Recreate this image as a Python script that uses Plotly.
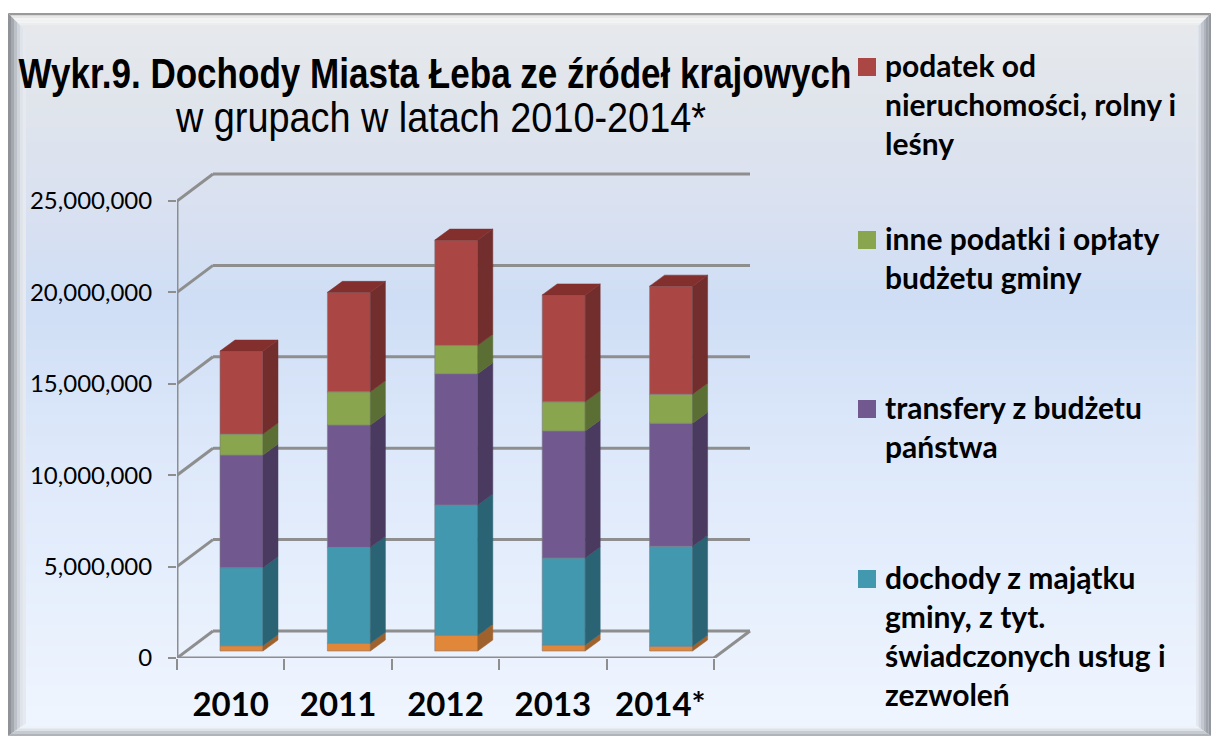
import plotly.graph_objects as go

years = ["2010", "2011", "2012", "2013", "2014*"]
series_names = [
    "świadczenia (bez opisu)",
    "dochody z majątku gminy, z tyt. świadczonych usług i zezwoleń",
    "transfery z budżetu państwa",
    "inne podatki i opłaty budżetu gminy",
    "podatek od nieruchomości, rolny i leśny",
]
v_orange = [290000, 420000, 860000, 330000, 260000]
v_teal = [4270000, 5250000, 7130000, 4760000, 5470000]
v_purple = [6160000, 6690000, 7180000, 6950000, 6730000]
v_green = [1150000, 1820000, 1550000, 1590000, 1590000]
v_red = [4540000, 5440000, 5760000, 5850000, 5910000]
y_ticks = [0, 5000000, 10000000, 15000000, 20000000, 25000000]

values = [v_orange, v_teal, v_purple, v_green, v_red]
front = ["#E0873A", "#4198AF", "#71588F", "#89A54E", "#AA4643"]
side = ["#A0622C", "#2A6474", "#4B3A60", "#5B6E34", "#722E2D"]
top_face = "#832F2D"
grid_c = "#8E8E8E"

W, H = 1211, 743
L, R, T, B = 177, 753, 172, 658
def px(x): return (x - L) / (R - L)
def py(y): return (B - y) / (B - T)
UX = 107.4                # pixels per category
UY = 457 / 25000000       # pixels per value unit
wall_dx, wall_dy = 36 / UX, 27 / UY
bar_off_x, bar_base = 10.8 / UX, 7 / UY
bar_w = 43 / UX
depth_x, depth_y = 15 / UX, 11 / UY

shapes = []
# background gradient bands
stops = [(14, (231, 233, 236)), (100, (224, 229, 236)), (200, (218, 225, 240)),
         (300, (207, 222, 245)), (450, (221, 232, 250)), (736, (240, 246, 255))]
def col(y):
    for (a, ca), (b, cb) in zip(stops, stops[1:]):
        if a <= y <= b:
            t = (y - a) / (b - a)
            return "rgb(%d,%d,%d)" % tuple(round(p + (q - p) * t) for p, q in zip(ca, cb))
    return "rgb(240,246,255)"
fx0, fx1, fy0, fy1 = 8, 1211, 13, 736
for y in range(fy0, fy1, 3):
    shapes.append(dict(type="rect", xref="paper", yref="paper", layer="below",
                       x0=px(fx0), x1=px(fx1), y0=py(y), y1=py(min(y + 3, fy1)),
                       fillcolor=col(y), line_width=0))
# bevel strips (graded steps, mitred)
def poly(pts, c):
    d = "M" + " L".join(f"{px(a):.5f},{py(b):.5f}" for a, b in pts) + " Z"
    shapes.append(dict(type="path", xref="paper", yref="paper", layer="below",
                       path=d, fillcolor=c, line_width=0))
left_cols = ["#8f9297", "#a5a8ae", "#bcc0c7", "#d0d4dc", "#dfe3ea", "#e6e9f0"]
right_cols = ["#e4e8f0", "#d5d9e2", "#c3c7d0", "#b0b4bd", "#9ea2aa", "#93979e"]
top_cols = ["#9a9a9a", "#e8e8e8", "#f4f4f4", "#f2f3f4", "#ecedef", "#e6e8ea"]
bot_cols = ["#eef3fb", "#dde1e8", "#c6cad1", "#b0b3b9"]
bw, n = 18, 6
for i, c in enumerate(left_cols):
    a, b = fx0 + i * bw / n, fx0 + (i + 1) * bw / n
    poly([(a, fy0 + a - fx0), (b, fy0 + b - fx0), (b, fy1 - (b - fx0) * .7), (a, fy1 - (a - fx0) * .7)], c)
for i, c in enumerate(right_cols):
    a, b = fx1 - 15 + i * 2.5, fx1 - 15 + (i + 1) * 2.5
    poly([(a, fy0 + (fx1 - a)), (b, fy0 + (fx1 - b)), (b, fy1 - (fx1 - b) * .7), (a, fy1 - (fx1 - a) * .7)], c)
for i, c in enumerate(top_cols):
    a, b = fy0 + i * 2.5, fy0 + (i + 1) * 2.5
    poly([(fx0 + a - fy0, a), (fx1 - (a - fy0), a), (fx1 - (b - fy0), b), (fx0 + b - fy0, b)], c)
for i, c in enumerate(bot_cols):
    a, b = fy1 - 10 + i * 2.5, fy1 - 10 + (i + 1) * 2.5
    poly([(fx0 + (fy1 - a) / .7, a), (fx1 - (fy1 - a) / .7, a), (fx1 - (fy1 - b) / .7, b), (fx0 + (fy1 - b) / .7, b)], c)

# gridlines of the pseudo-3D walls
n_cat = len(years)
def grid(x0, y0, x1, y1, w=3):
    shapes.append(dict(type="line", xref="x", yref="y", layer="below", x0=x0, y0=y0, x1=x1, y1=y1,
                       line=dict(color=grid_c, width=w)))
for t in y_ticks:
    grid(wall_dx, t + wall_dy, n_cat + wall_dx, t + wall_dy)
    grid(0, t, wall_dx, t + wall_dy)
grid(0, 0, n_cat, 0)
grid(n_cat, 0, n_cat + wall_dx, wall_dy)
grid(0, 0, 0, y_ticks[-1])

fig = go.Figure()
base = [bar_base] * n_cat
cx = [i + 0.5 + bar_off_x for i in range(n_cat)]
for name, vals, cf, cs in zip(series_names, values, front, side):
    fig.add_trace(go.Bar(x=cx, y=vals, base=base, width=bar_w, name=name,
                         marker=dict(color=cf, line=dict(color="rgba(125,125,135,0.6)", width=1)),
                         showlegend=False))
    for xc, b, v in zip(cx, base, vals):
        x1 = xc + bar_w / 2
        fig.add_trace(go.Scatter(
            x=[x1, x1 + depth_x, x1 + depth_x, x1, x1],
            y=[b, b + depth_y, b + v + depth_y, b + v, b],
            mode="lines", fill="toself", fillcolor=cs, line=dict(color=cs, width=0.5),
            showlegend=False, hoverinfo="skip"))
    base = [b + v for b, v in zip(base, vals)]
for xc, b in zip(cx, base):
    x0, x1 = xc - bar_w / 2, xc + bar_w / 2
    fig.add_trace(go.Scatter(
        x=[x0, x1, x1 + depth_x, x0 + depth_x, x0],
        y=[b, b, b + depth_y, b + depth_y, b],
        mode="lines", fill="toself", fillcolor=top_face, line=dict(color=top_face, width=0.5),
        showlegend=False, hoverinfo="skip"))
# invisible trace that carries the category axis labels
fig.add_trace(go.Scatter(x=[i + 0.5 for i in range(n_cat)], y=[0] * n_cat, xaxis="x2", mode="markers",
                         marker=dict(opacity=0), showlegend=False, hoverinfo="skip"))

# legend drawn beside the plot, as in the reference
legend = [
    (["podatek od", "nieruchomości, rolny i", "leśny"], front[4], 66),
    (["inne podatki i opłaty", "budżetu gminy"], front[3], 239),
    (["transfery z budżetu", "państwa"], front[2], 408),
    (["dochody z majątku", "gminy, z tyt.", "świadczonych usług i", "zezwoleń"], front[1], 578),
]
annotations = []
for lines, c, y in legend:
    shapes.append(dict(type="rect", xref="paper", yref="paper", layer="below",
                       x0=px(858), x1=px(876), y0=py(y - 8), y1=py(y + 10), fillcolor=c, line_width=0))
    annotations.append(dict(xref="paper", yref="paper", x=px(883), y=py(y - 21), xanchor="left", yanchor="top",
                            align="left", showarrow=False, text="<br>".join(f"<b>{s}</b>" for s in lines),
                            font=dict(family="Lato", size=30, color="#000000")))

fig.update_layout(
    width=W, height=H, autosize=False,
    margin=dict(l=L, r=W - R, t=T, b=H - B, pad=0),
    paper_bgcolor="#FFFFFF", plot_bgcolor="rgba(0,0,0,0)",
    barmode="overlay", showlegend=False, shapes=shapes, annotations=annotations,
    title=dict(text="<b>Wykr.9. Dochody Miasta Łeba ze źródeł krajowych</b>",
               subtitle=dict(text="w grupach w latach 2010-2014*",
                             font=dict(family="Liberation Sans", size=43, color="#000000")),
               x=435 / W, xanchor="center", xref="container", y=1 - 58 / H, yref="container", yanchor="top",
               font=dict(family="Liberation Sans", size=43, color="#000000")),
    xaxis=dict(range=[0, (R - L) / UX], tickvals=list(range(n_cat + 1)), ticktext=[""] * (n_cat + 1),
               ticks="outside", ticklen=11, tickcolor=grid_c, tickwidth=2, showgrid=False, zeroline=False,
               showline=False, fixedrange=True, automargin=False),
    xaxis2=dict(range=[0, (R - L) / UX], overlaying="x", side="bottom", anchor="y",
                tickvals=[i + 0.5 for i in range(n_cat)], ticktext=[f"<b>{y}</b>" for y in years],
                ticks="outside", ticklen=17, tickcolor="rgba(0,0,0,0)", showgrid=False, zeroline=False,
                showline=False, tickfont=dict(family="Lato", size=33, color="#000000"), fixedrange=True,
                automargin=False),
    yaxis=dict(range=[0, (B - T) / UY], tickvals=y_ticks, tickformat=",d", ticks="outside", ticklen=8,
               tickcolor=grid_c, tickwidth=2, showgrid=False, zeroline=False, showline=False,
               ticklabelstandoff=11, automargin=False,
               tickfont=dict(family="Lato", size=24, color="#000000"), fixedrange=True),
)
post = """
document.body.style.margin='0';
const squeeze = (s, t) => {
  const el = document.querySelector(s);
  if (el) { el.style.transformBox='fill-box'; el.style.transformOrigin='center'; el.style.transform=t; }
};
squeeze('.gtitle', 'scaleX(0.815)');
squeeze('.gtitle-subtitle', 'translate(6px,-64px) scaleX(0.88)');
"""
fig.write_html("out.html", post_script=post, config={"displayModeBar": False})
